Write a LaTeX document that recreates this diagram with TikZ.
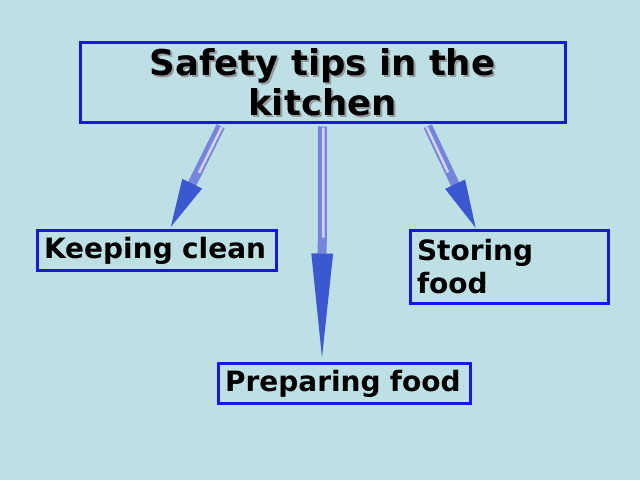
\documentclass[tikz,border=0pt]{standalone}
\usepackage{fontspec}
\setmainfont{DejaVu Sans}
\usetikzlibrary{arrows.meta,positioning}
\definecolor{bgblue}{RGB}{189,224,228}
\definecolor{frameblue}{RGB}{22,22,235}
\definecolor{arrblue}{RGB}{118,132,224}
\definecolor{headblue}{RGB}{58,88,208}
\definecolor{arrlight}{RGB}{208,212,250}
\definecolor{shadowgray}{RGB}{150,155,158}

\begin{document}
\begin{tikzpicture}[x=1pt,y=-1pt,
  tipbox/.style={draw=frameblue,line width=3pt,inner xsep=7pt,inner ysep=0pt,align=left,
    font=\bfseries\fontsize{28}{32.5}\selectfont},
  bigarrow/.style={draw=arrblue,line width=9pt,-{Triangle[length=#1,width=19pt,color=headblue]}},
  bigarrow/.default=54pt,
  shine/.style={draw=arrlight,line width=2.5pt}]
\fill[bgblue] (0,0) rectangle (640,480);%background
\useasboundingbox (0,0) rectangle (640,480);

\node[align=center,text=shadowgray,font=\bfseries\fontsize{35.5}{40}\selectfont] (titleshadow) at (324.5,84) {Safety tips in the\\kitchen};
\node[tipbox,align=center,minimum width=485pt,minimum height=80pt,font=\bfseries\fontsize{35.5}{40}\selectfont] (title) at (322.5,82) {Safety tips in the\\kitchen};%title

\node[tipbox,text width=225pt,minimum height=40pt,text height=22pt,text depth=6pt] (keep) at (156.5,250) {Keeping clean};%left
\node[tipbox,text width=184pt,minimum height=73pt] (store) at (509,266.5) {Storing\\food};%right
\node[tipbox,text width=238pt,minimum height=40pt,text height=22pt,text depth=6pt] (prep) at (344,383) {Preparing food};%bottom

\draw[bigarrow,shorten <=3pt,shorten >=-4pt] ([xshift=-100.5pt]title.south) -- ([xshift=13.5pt]keep.north);
\draw[shine,shorten <=4pt,shorten >=62pt] ([xshift=-99pt]title.south) -- ([xshift=15pt]keep.north);
\draw[bigarrow=116pt,shorten <=3pt,shorten >=-8pt] ([xshift=0pt]title.south) -- ([xshift=-22pt]prep.north);
\draw[shine,shorten <=4pt,shorten >=124pt] ([xshift=1pt]title.south) -- ([xshift=-21pt]prep.north);
\draw[bigarrow,shorten <=3pt,shorten >=-5pt] ([xshift=104pt]title.south) -- ([xshift=-33pt]store.north);
\draw[shine,shorten <=4pt,shorten >=62pt] ([xshift=102.5pt]title.south) -- ([xshift=-34.5pt]store.north);
\end{tikzpicture}
\end{document}
